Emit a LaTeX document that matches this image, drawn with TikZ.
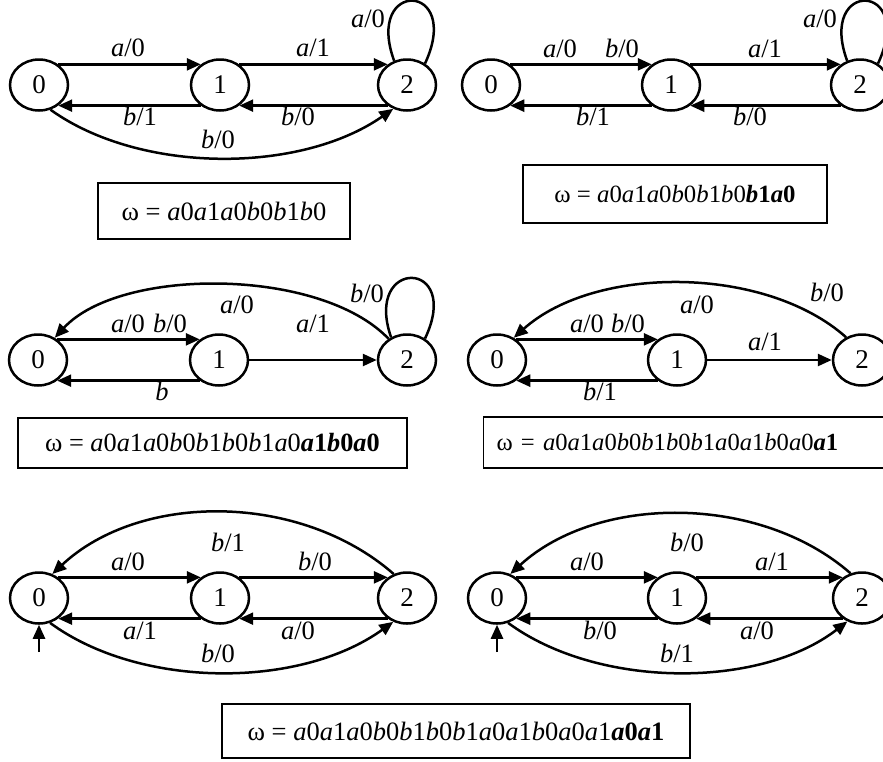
\documentclass[tikz,border=0pt]{standalone}
\usepackage{fontspec}
\setmainfont{Liberation Serif}
\usetikzlibrary{shapes.geometric,arrows.meta}
\newcommand{\trlab}[2]{\textit{#1}/#2}
\newcommand{\ita}{\textit{a}}
\newcommand{\itb}{\textit{b}}
\begin{document}
\begin{tikzpicture}[x=1pt,y=-1pt,
  st/.style={draw,ellipse,line width=2.5pt,minimum width=58pt,minimum height=51pt,inner sep=0pt,font=\fontsize{27}{30}\selectfont},
  tr/.style={line width=2.5pt,-{Triangle[length=14pt,width=12pt]}},
  ln/.style={line width=2.5pt},
  el/.style={anchor=base,inner sep=0pt,font=\fontsize{26.5}{30}\selectfont},
  wbox/.style={draw,line width=1.1pt,inner sep=0pt}]
\clip (0,0) rectangle (883,761);
% ---------- panel 1
\node[st] (p1n0) at (39,85) {0};
\node[st] (p1n1) at (220,85) {1};
\node[st] (p1n2) at (407,85) {2};
\draw[tr] (p1n0.47) -- (p1n1.133);
\draw[tr] (p1n1.-133) -- (p1n0.-47);
\draw[tr] (p1n1.47) -- (p1n2.133);
\draw[tr] (p1n2.-133) -- (p1n1.-47);
\draw[tr] (p1n0.-65) .. controls (140,174) and (300,174) .. (p1n2.-120);
\draw[ln] (p1n2.118) .. controls +(-30,-82) and +(38,-82) .. (p1n2.50);
\node[el] (l1a) at (128,56) {\trlab{a}{0}};
\node[el] (l1b) at (313,56) {\trlab{a}{1}};
\node[el] (l1c) at (140,125) {\trlab{b}{1}};
\node[el] (l1d) at (298,125) {\trlab{b}{0}};
\node[el] (l1e) at (218,148) {\trlab{b}{0}};
\node[el] (l1f) at (368,27) {\trlab{a}{0}};
\node[wbox,minimum width=252pt,minimum height=56pt,font=\fontsize{26.5}{30}\selectfont] (w1) at (224,211) {ω = \ita0\ita1\ita0\itb0\itb1\itb0};
% ---------- panel 2
\node[st] (p2n0) at (491,85) {0};
\node[st] (p2n1) at (671,85) {1};
\node[st] (p2n2) at (860,85) {2};
\draw[tr] (p2n0.47) -- (p2n1.133);
\draw[tr] (p2n1.-133) -- (p2n0.-47);
\draw[tr] (p2n1.47) -- (p2n2.133);
\draw[tr] (p2n2.-133) -- (p2n1.-47);
\draw[ln] (p2n2.118) .. controls +(-30,-82) and +(38,-82) .. (p2n2.50);
\node[el] (l2a) at (560,57) {\trlab{a}{0}};
\node[el] (l2b) at (622,57) {\trlab{b}{0}};
\node[el] (l2c) at (593,125) {\trlab{b}{1}};
\node[el] (l2d) at (765,57) {\trlab{a}{1}};
\node[el] (l2e) at (750,125) {\trlab{b}{0}};
\node[el] (l2f) at (820,27) {\trlab{a}{0}};
\node[wbox,minimum width=304pt,minimum height=58pt,font=\fontsize{24.8}{30}\selectfont] (w2) at (675,194) {ω = \ita0\ita1\ita0\itb0\itb1\itb0\textbf{\itb1\ita0}};
% ---------- panel 3
\node[st] (p3n0) at (38,360) {0};
\node[st] (p3n1) at (219,360) {1};
\node[st] (p3n2) at (407,360) {2};
\draw[tr] (p3n0.47) -- (p3n1.133);
\draw[tr] (p3n1.-133) -- (p3n0.-47);
\draw[tr] (p3n1.east) -- (p3n2.west);
\draw[tr] (p3n2.131) .. controls (320,267) and (120,267) .. (p3n0.53);
\draw[ln] (p3n2.125) .. controls +(-28,-80) and +(38,-80) .. (p3n2.50);
\node[el] (l3a) at (128,332) {\trlab{a}{0}};
\node[el] (l3b) at (170,332) {\trlab{b}{0}};
\node[el] (l3c) at (162,400) {\textit{b}};
\node[el] (l3d) at (313,332) {\trlab{a}{1}};
\node[el] (l3e) at (237,313) {\trlab{a}{0}};
\node[el] (l3f) at (367,302) {\trlab{b}{0}};
\node[wbox,minimum width=389pt,minimum height=50pt,font=\fontsize{26.3}{30}\selectfont] (w3) at (212.5,443) {ω = \ita0\ita1\ita0\itb0\itb1\itb0\itb1\ita0\textbf{\ita1\itb0\ita0}};
% ---------- panel 4
\node[st] (p4n0) at (497,360) {0};
\node[st] (p4n1) at (677,360) {1};
\node[st] (p4n2) at (862,360) {2};
\draw[tr] (p4n0.47) -- (p4n1.133);
\draw[tr] (p4n1.-133) -- (p4n0.-47);
\draw[tr] (p4n1.east) -- (p4n2.west);
\draw[tr] (p4n2.125) .. controls (765,265) and (595,265) .. (p4n0.53);
\node[el] (l4a) at (587,332) {\trlab{a}{0}};
\node[el] (l4b) at (628,332) {\trlab{b}{0}};
\node[el] (l4c) at (600,400) {\trlab{b}{1}};
\node[el] (l4d) at (765,350) {\trlab{a}{1}};
\node[el] (l4e) at (697,313) {\trlab{a}{0}};
\node[el] (l4f) at (827,301) {\trlab{b}{0}};
\node[wbox,anchor=west,minimum height=51pt,inner xsep=13pt,text width=395pt,align=left,font=\fontsize{24.6}{30}\selectfont] (w4) at (483,442.5) {ω = \ita0\ita1\ita0\itb0\itb1\itb0\itb1\ita0\ita1\itb0\ita0\textbf{\ita1}};
% ---------- panel 5
\node[st] (p5n0) at (39,598) {0};
\node[st] (p5n1) at (220,598) {1};
\node[st] (p5n2) at (407,598) {2};
\draw[tr] (p5n0.47) -- (p5n1.133);
\draw[tr] (p5n1.-133) -- (p5n0.-47);
\draw[tr] (p5n1.47) -- (p5n2.133);
\draw[tr] (p5n2.-133) -- (p5n1.-47);
\draw[tr] (p5n2.119) .. controls (300,492) and (140,492) .. (p5n0.61);
\draw[tr] (p5n0.-66) .. controls (140,689) and (300,689) .. (p5n2.-120);
\coordinate (p5i) at (39,652);
\draw[tr] (p5i) -- (p5n0.south);
\node[el] (l5a) at (128,570) {\trlab{a}{0}};
\node[el] (l5b) at (315,570) {\trlab{b}{0}};
\node[el] (l5c) at (140,639) {\trlab{a}{1}};
\node[el] (l5d) at (298,639) {\trlab{a}{0}};
\node[el] (l5e) at (228,551) {\trlab{b}{1}};
\node[el] (l5f) at (218,662) {\trlab{b}{0}};
% ---------- panel 6
\node[st] (p6n0) at (497,598) {0};
\node[st] (p6n1) at (677,598) {1};
\node[st] (p6n2) at (862,598) {2};
\draw[tr] (p6n0.47) -- (p6n1.133);
\draw[tr] (p6n1.-133) -- (p6n0.-47);
\draw[tr] (p6n1.47) -- (p6n2.133);
\draw[tr] (p6n2.-133) -- (p6n1.-47);
\draw[tr] (p6n2.115) .. controls (760,494) and (598,494) .. (p6n0.61);
\draw[tr] (p6n0.-66) .. controls (598,689) and (760,689) .. (p6n2.-122);
\coordinate (p6i) at (497,652);
\draw[tr] (p6i) -- (p6n0.south);
\node[el] (l6a) at (587,570) {\trlab{a}{0}};
\node[el] (l6b) at (772,570) {\trlab{a}{1}};
\node[el] (l6c) at (600,639) {\trlab{b}{0}};
\node[el] (l6d) at (757,639) {\trlab{a}{0}};
\node[el] (l6e) at (687,551) {\trlab{b}{0}};
\node[el] (l6f) at (677,662) {\trlab{b}{1}};
\node[wbox,minimum width=468pt,minimum height=54pt,font=\fontsize{26.5}{30}\selectfont] (w6) at (456,731) {ω = \ita0\ita1\ita0\itb0\itb1\itb0\itb1\ita0\ita1\itb0\ita0\ita1\textbf{\ita0\ita1}};
\end{tikzpicture}
\end{document}
